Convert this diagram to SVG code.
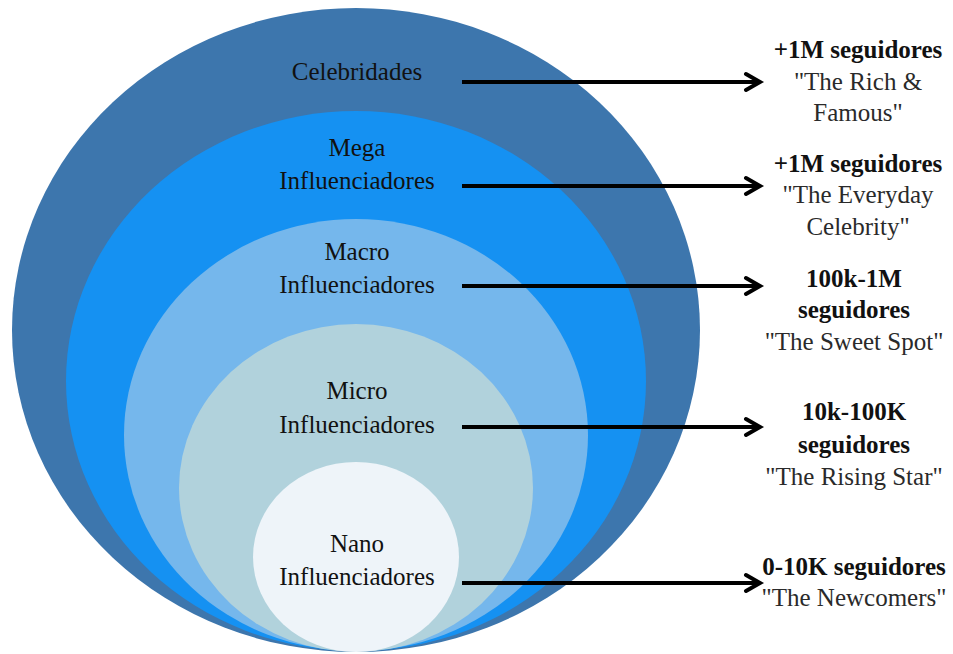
<svg xmlns="http://www.w3.org/2000/svg" width="953" height="654" viewBox="0 0 953 654">
<style>
text{font-family:'Liberation Serif','DejaVu Serif',serif;text-anchor:middle}
.lbl{font-size:25px;fill:#111}
.b{font-size:25px;font-weight:bold;fill:#111}
.q{font-size:25px;fill:#2a2a2a}
.arr{stroke:#000;stroke-width:4;fill:none}
</style>
<defs>
<marker id="chev" markerUnits="userSpaceOnUse" viewBox="-20 -12 24 24" refX="0" refY="0" markerWidth="24" markerHeight="24" orient="auto">
<path d="M-14,-8 L0,0 L-14,8" fill="none" stroke="#000" stroke-width="4" stroke-linejoin="miter" stroke-linecap="round"/>
</marker>
</defs>
<rect width="953" height="654" fill="#fff"/>
<g id="celebridades">
<ellipse cx="356" cy="330" rx="344" ry="322" fill="#3d76ad"/>
<text class="lbl" x="357" y="80">Celebridades</text>
</g>
<g id="mega">
<ellipse cx="356" cy="381" rx="290" ry="270" fill="#1591f2"/>
<text class="lbl" x="357" y="156">Mega</text>
<text class="lbl" x="357" y="189">Influenciadores</text>
</g>
<g id="macro">
<ellipse cx="356" cy="435" rx="232" ry="216" fill="#75b7ec"/>
<text class="lbl" x="357" y="260">Macro</text>
<text class="lbl" x="357" y="293">Influenciadores</text>
</g>
<g id="micro">
<ellipse cx="356" cy="488" rx="177" ry="164" fill="#b1d2dc"/>
<text class="lbl" x="357" y="399">Micro</text>
<text class="lbl" x="357" y="433">Influenciadores</text>
</g>
<g id="nano">
<ellipse cx="356" cy="557" rx="103" ry="95" fill="#eef4f9"/>
<text class="lbl" x="357" y="552">Nano</text>
<text class="lbl" x="357" y="585">Influenciadores</text>
</g>
<g id="connectors">
<line class="arr" x1="462" y1="82" x2="760" y2="82" marker-end="url(#chev)"/>
<line class="arr" x1="462" y1="186" x2="760" y2="186" marker-end="url(#chev)"/>
<line class="arr" x1="462" y1="286" x2="760" y2="286" marker-end="url(#chev)"/>
<line class="arr" x1="462" y1="427" x2="760" y2="427" marker-end="url(#chev)"/>
<line class="arr" x1="462" y1="583" x2="760" y2="583" marker-end="url(#chev)"/>
</g>
<g id="info-celebridades">
<text class="b" x="858" y="58">+1M seguidores</text>
<text class="q" x="858" y="90">"The Rich &amp;</text>
<text class="q" x="858" y="121">Famous"</text>
</g>
<g id="info-mega">
<text class="b" x="858" y="172">+1M seguidores</text>
<text class="q" x="858" y="203">"The Everyday</text>
<text class="q" x="858" y="235">Celebrity"</text>
</g>
<g id="info-macro">
<text class="b" x="854" y="287">100k-1M</text>
<text class="b" x="854" y="318">seguidores</text>
<text class="q" x="854" y="350">"The Sweet Spot"</text>
</g>
<g id="info-micro">
<text class="b" x="854" y="420">10k-100K</text>
<text class="b" x="854" y="453">seguidores</text>
<text class="q" x="854" y="485">"The Rising Star"</text>
</g>
<g id="info-nano">
<text class="b" x="854" y="575">0-10K seguidores</text>
<text class="q" x="854" y="606">"The Newcomers"</text>
</g>
</svg>
